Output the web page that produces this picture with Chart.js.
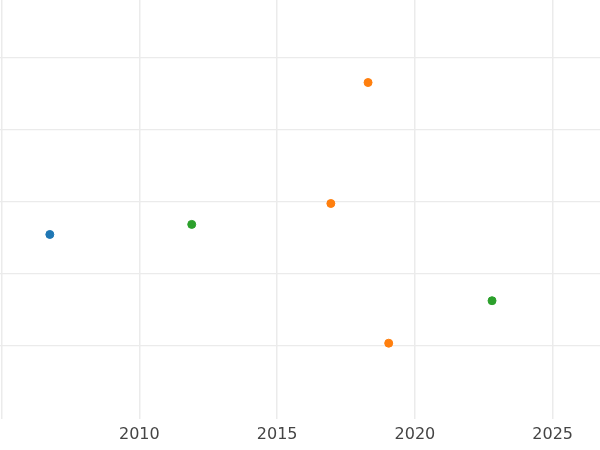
<!DOCTYPE html>
<html>
<head>
<meta charset="utf-8">
<script src="https://cdn.jsdelivr.net/npm/chart.js@4"></script>
<style>
  html, body { margin: 0; padding: 0; background: #fff; }
  #wrap { width: 600px; height: 450px; overflow: hidden; position: relative; }
  #inner { position: absolute; left: -10px; top: -6px; width: 620px; height: 456px; }
</style>
</head>
<body>
<div id="wrap"><div id="inner"><canvas id="chart"></canvas></div></div>
<script>
// series data
const blueX = [2006.75];
const blueY = [1.55];
const greenX = [2011.9, 2022.8];
const greenY = [1.69, 0.63];
const orangeX = [2018.3, 2016.95, 2019.05];
const orangeY = [3.66, 1.98, 0.04];
const xTicks = [2005, 2010, 2015, 2020, 2025];
const xLabels = ['', '2010', '2015', '2020', '2025'];
const yTicks = [0, 1, 2, 3, 4];

const toPoints = (xs, ys) => xs.map((x, i) => ({ x: x, y: ys[i] }));

const series = [
    { data: toPoints(blueX, blueY), color: '#1f77b4' },
    { data: toPoints(greenX, greenY), color: '#2ca02c' },
    { data: toPoints(orangeX, orangeY), color: '#ff7f0e' }
];

new Chart(document.getElementById('chart'), {
    type: 'scatter',
    data: {
        datasets: series.map(s => ({
            data: s.data,
            backgroundColor: s.color,
            borderColor: s.color,
            pointRadius: 4,
            pointHoverRadius: 4
        }))
    },
    options: {
        responsive: true,
        maintainAspectRatio: false,
        animation: false,
        layout: { padding: 0 },
        plugins: { legend: { display: false }, tooltip: { enabled: false } },
        scales: {
            x: {
                type: 'linear',
                min: 2004.76,
                max: 2026.9,
                afterBuildTicks: axis => { axis.ticks = xTicks.map(v => ({ value: v })); },
                grid: { color: '#ebebeb', lineWidth: 1.5, drawTicks: false },
                border: { display: false },
                ticks: {
                    padding: 6,
                    color: '#444',
                    font: { family: "'DejaVu Sans', sans-serif", size: 16 },
                    callback: (v, i) => xLabels[i]
                }
            },
            y: {
                type: 'linear',
                min: -1.01,
                max: 4.82,
                afterBuildTicks: axis => { axis.ticks = yTicks.map(v => ({ value: v })); },
                afterFit: axis => { axis.width = 0; },
                grid: { color: '#ebebeb', lineWidth: 1.2, drawTicks: false },
                border: { display: false },
                ticks: { display: false }
            }
        }
    }
});
</script>
</body>
</html>
